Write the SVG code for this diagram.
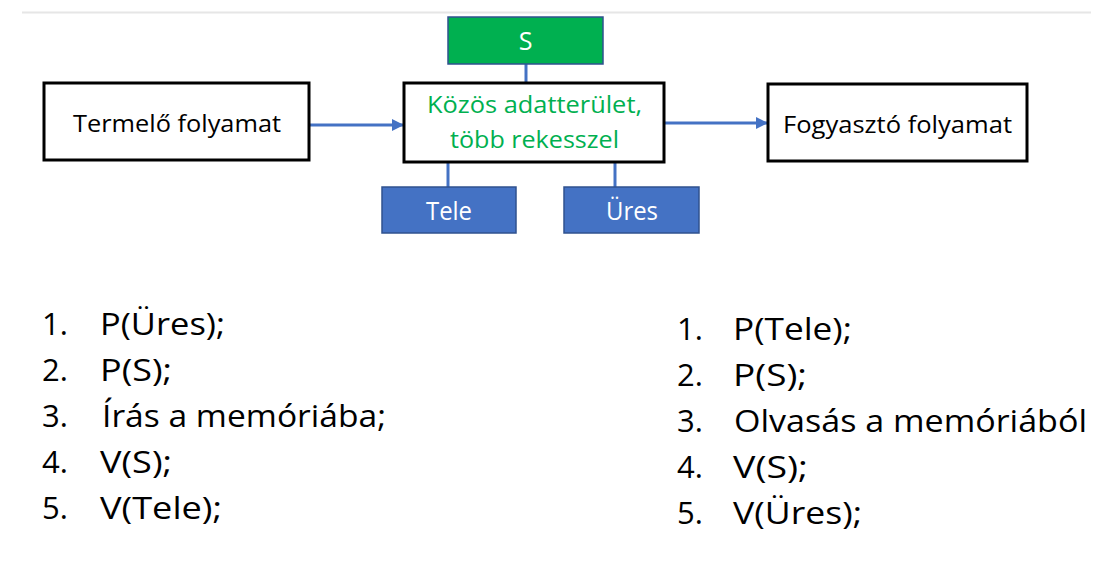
<svg xmlns="http://www.w3.org/2000/svg" width="1110" height="580" viewBox="0 0 1110 580">
<style>
text{font-family:"Open Sans","Noto Sans","Liberation Sans",sans-serif}
.box{fill:#fff;stroke:#000;stroke-width:3}
.sem{stroke:#2F528F;stroke-width:1.5}
.lbl{font-size:24px;fill:#000;text-anchor:middle}
.wl{font-size:25px;fill:#fff;text-anchor:middle}
.gr{font-size:23px;fill:#00B050;text-anchor:middle}
.li{font-size:31px;fill:#000}
.con{stroke:#4472C4;stroke-width:3;fill:none}
</style>
<defs>
<marker id="ah" viewBox="0 0 10 10" refX="10" refY="5" markerWidth="4" markerHeight="4" orient="auto" markerUnits="strokeWidth">
<path d="M0,0 L10,5 L0,10 z" fill="#4472C4"/>
</marker>
</defs>
<rect width="1110" height="580" fill="#fff"/>
<line x1="22" y1="12.5" x2="1091" y2="12.5" stroke="#e6e6e6" stroke-width="2"/>

<g id="connectors">
<line class="con" x1="309" y1="125" x2="404" y2="125" stroke-width="2.5" marker-end="url(#ah)"/>
<line class="con" x1="664" y1="123" x2="768" y2="123" stroke-width="2.5" marker-end="url(#ah)"/>
<line class="con" x1="526" y1="64" x2="526" y2="83"/>
<line class="con" x1="448" y1="162" x2="448" y2="187"/>
<line class="con" x1="615" y1="162" x2="615" y2="187"/>
</g>

<g id="termelo">
<rect class="box" x="44" y="83" width="265" height="77"/>
<text class="lbl" x="177" y="132" textLength="208" lengthAdjust="spacingAndGlyphs">Termelő folyamat</text>
</g>

<g id="kozos">
<rect class="box" x="404" y="83" width="260" height="79"/>
<text class="gr" x="534.5" y="113" textLength="215" lengthAdjust="spacingAndGlyphs">Közös adatterület,</text>
<text class="gr" x="534.5" y="148" textLength="169" lengthAdjust="spacingAndGlyphs">több rekesszel</text>
</g>

<g id="fogyaszto">
<rect class="box" x="768" y="84" width="259" height="77"/>
<text class="lbl" x="897.5" y="133" textLength="229" lengthAdjust="spacingAndGlyphs">Fogyasztó folyamat</text>
</g>

<g id="S">
<rect class="sem" x="448" y="17" width="155" height="47" fill="#00B050"/>
<text class="wl" x="525.5" y="50">S</text>
</g>

<g id="Tele">
<rect class="sem" x="382" y="187" width="134" height="46" fill="#4472C4"/>
<text class="wl" x="449" y="220" textLength="46" lengthAdjust="spacingAndGlyphs">Tele</text>
</g>

<g id="Ures">
<rect class="sem" x="564" y="187" width="135" height="46" fill="#4472C4"/>
<text class="wl" x="632" y="220" textLength="52" lengthAdjust="spacingAndGlyphs">Üres</text>
</g>

<g id="producer-list">
<text class="li" x="42" y="335">1.</text>
<text class="li" x="100" y="335" textLength="125" lengthAdjust="spacingAndGlyphs">P(Üres);</text>
<text class="li" x="42" y="381">2.</text>
<text class="li" x="100" y="381" textLength="72" lengthAdjust="spacingAndGlyphs">P(S);</text>
<text class="li" x="42" y="427">3.</text>
<text class="li" x="102" y="427" textLength="284" lengthAdjust="spacingAndGlyphs">Írás a memóriába;</text>
<text class="li" x="42" y="473">4.</text>
<text class="li" x="100" y="473" textLength="72" lengthAdjust="spacingAndGlyphs">V(S);</text>
<text class="li" x="42" y="519">5.</text>
<text class="li" x="100" y="519" textLength="122" lengthAdjust="spacingAndGlyphs">V(Tele);</text>
</g>

<g id="consumer-list">
<text class="li" x="677" y="340">1.</text>
<text class="li" x="733" y="340" textLength="119" lengthAdjust="spacingAndGlyphs">P(Tele);</text>
<text class="li" x="677" y="386">2.</text>
<text class="li" x="733" y="386" textLength="74" lengthAdjust="spacingAndGlyphs">P(S);</text>
<text class="li" x="677" y="432">3.</text>
<text class="li" x="734" y="432" textLength="353" lengthAdjust="spacingAndGlyphs">Olvasás a memóriából</text>
<text class="li" x="677" y="478">4.</text>
<text class="li" x="733" y="478" textLength="75" lengthAdjust="spacingAndGlyphs">V(S);</text>
<text class="li" x="677" y="524">5.</text>
<text class="li" x="733" y="524" textLength="129" lengthAdjust="spacingAndGlyphs">V(Üres);</text>
</g>
</svg>
